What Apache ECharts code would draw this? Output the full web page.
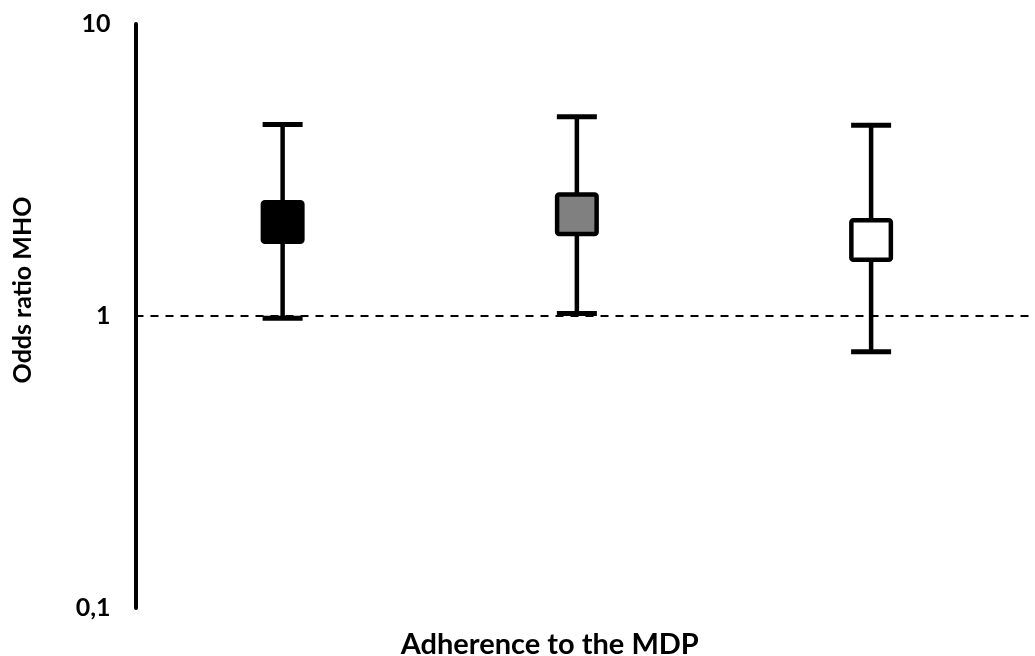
<!DOCTYPE html>
<html>
<head>
<meta charset="utf-8">
<script src="https://cdn.jsdelivr.net/npm/echarts@6/dist/echarts.min.js"></script>
<style>
html,body{margin:0;padding:0;background:#fff;}
#c{width:1035px;height:656px;}
</style>
</head>
<body>
<div id="c"></div>
<script>
// Data
const categories = ['Low', 'Medium', 'High'];
const oddsRatio = [2.10, 2.23, 1.82];
const lowerCI = [0.982, 1.02, 0.755];
const upperCI = [4.53, 4.81, 4.50];
const yTicks = [0.1, 1, 10];
const referenceLine = 1;

// Styles
const fills = ['#000000', '#808080', '#ffffff'];
const FONT = 'Lato';

const seriesData = categories.map((c, i) => [i + 1, oddsRatio[i], lowerCI[i], upperCI[i]]);

const chart = echarts.init(document.getElementById('c'));
chart.setOption({
  animation: false,
  backgroundColor: '#ffffff',
  grid: { left: 135.5, right: 5, top: 24, bottom: 48, containLabel: false, outerBoundsMode: 'none' },
  xAxis: {
    type: 'value',
    min: 0.5,
    max: 3.54,
    name: 'Adherence to the MDP',
    nameLocation: 'middle',
    nameGap: 22,
    nameTextStyle: { fontFamily: FONT, fontWeight: 'bold', fontSize: 29, color: '#000', padding: [0, 66, 0, 0] },
    axisLine: { show: false },
    axisTick: { show: false },
    axisLabel: { show: false },
    splitLine: { show: false }
  },
  yAxis: {
    type: 'log',
    logBase: 10,
    min: yTicks[0],
    max: yTicks[yTicks.length - 1],
    name: 'Odds ratio MHO',
    nameLocation: 'middle',
    nameGap: 100,
    nameTextStyle: { fontFamily: FONT, fontWeight: 'bold', fontSize: 25, color: '#000', padding: [0, 0, 0, 52] },
    axisLine: { show: true, lineStyle: { color: '#000', width: 4 } },
    axisTick: { show: false },
    splitLine: { show: false },
    axisLabel: {
      margin: 25,
      fontFamily: FONT, fontWeight: 'bold', fontSize: 25, color: '#000',
      formatter: v => String(v).replace('.', ',')
    }
  },
  series: [{
    type: 'custom',
    data: seriesData,
    renderItem: function (params, api) {
      const x = api.value(0);
      const c = api.coord([x, api.value(1)]);
      const lo = api.coord([x, api.value(2)]);
      const hi = api.coord([x, api.value(3)]);
      const capW = 40, box = 44;
      const idx = params.dataIndex;
      return {
        type: 'group',
        children: [
          { type: 'line', shape: { x1: c[0], y1: hi[1], x2: c[0], y2: lo[1] }, style: { stroke: '#000', lineWidth: 4.5 } },
          { type: 'line', shape: { x1: c[0] - capW / 2, y1: hi[1], x2: c[0] + capW / 2, y2: hi[1] }, style: { stroke: '#000', lineWidth: 5 } },
          { type: 'line', shape: { x1: c[0] - capW / 2, y1: lo[1], x2: c[0] + capW / 2, y2: lo[1] }, style: { stroke: '#000', lineWidth: 5 } },
          { type: 'rect', shape: { x: c[0] - box / 2 + 2.25, y: c[1] - box / 2 + 2.25, width: box - 4.5, height: box - 4.5, r: 2 }, style: { fill: fills[idx], stroke: '#000', lineWidth: 4.5 } }
        ]
      };
    },
    markLine: {
      silent: true,
      symbol: 'none',
      label: { show: false },
      lineStyle: { color: '#000', width: 2, type: [8, 7] },
      data: [{ yAxis: referenceLine }]
    },
    z: 3
  }]
});
</script>
</body>
</html>
